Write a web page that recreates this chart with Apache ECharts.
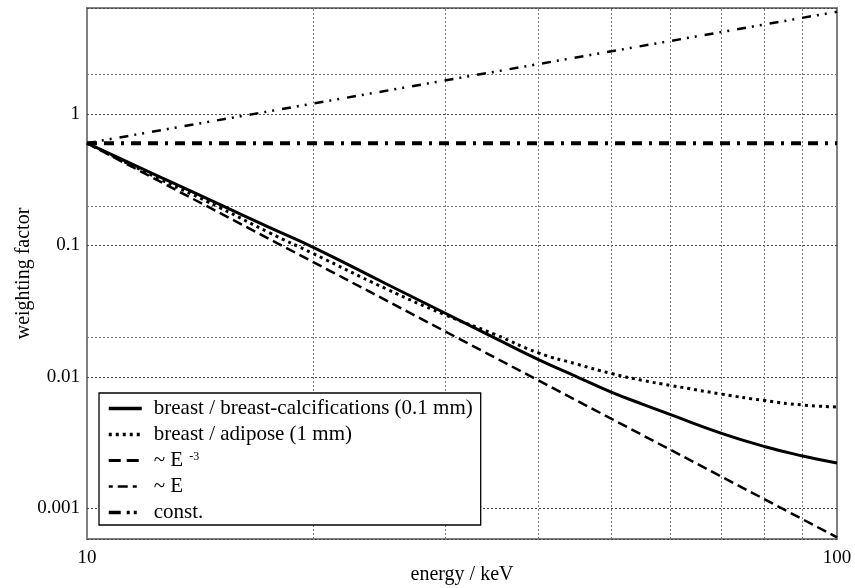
<!DOCTYPE html>
<html>
<head>
<meta charset="UTF-8">
<title>weighting factor</title>
<script src="https://cdn.jsdelivr.net/npm/echarts@6/dist/echarts.min.js"></script>
<style>
html, body { margin: 0; padding: 0; background: #fff; }
#chart { width: 855px; height: 588px; }
</style>
</head>
<body>
<div id="chart"></div>
<script>
// energies (keV) where the two curves were read
var energy = [10, 12.5, 15, 17.5, 20, 25, 30, 35, 40, 45, 50, 55, 60, 70, 80, 90, 100];
// breast / breast-calcifications (0.1 mm)
var calcValues = [0.6, 0.333, 0.206, 0.137, 0.097, 0.0513, 0.0306, 0.0197, 0.0135, 0.0100, 0.00765, 0.0062, 0.00515, 0.00373, 0.00295, 0.0025, 0.00221];
// breast / adipose (1 mm)
var adiposeValues = [0.6, 0.32, 0.195, 0.125, 0.087, 0.047, 0.0297, 0.021, 0.0152, 0.0125, 0.0106, 0.0094, 0.0086, 0.0074, 0.0066, 0.0061, 0.0059];
// straight reference lines (end points)
var refEnergy = [10, 100];
var invCubeValues = [0.6, 0.0006];
var linearValues = [0.6, 6.0];
var constValues = [0.6, 0.6];
// extra grid lines
var xGridLines = [20, 30, 40, 50, 60, 70, 80, 90];
var yGridLines = [2, 0.2, 0.02, 0.002];

var seriesNames = ['breast / breast-calcifications (0.1 mm)', 'breast / adipose (1 mm)', '~ E-3', '~ E', 'const.'];

// line styles shared by the series and their legend samples
var styles = [
  { color: '#000', width: 3, type: 'solid' },
  { color: '#000', width: 3, type: [3, 4] },
  { color: '#000', width: 2.5, type: [10, 5] },
  { color: '#000', width: 2.5, type: [9, 6, 2, 6, 2, 8] },
  { color: '#000', width: 4, type: [10, 7, 10, 7, 3, 7] }
];
var legendStyles = [
  { color: '#000', width: 3.5, type: 'solid' },
  { color: '#000', width: 3.5, type: [3, 4] },
  { color: '#000', width: 3, type: [12, 6] },
  { color: '#000', width: 2.5, type: [4, 5, 10, 5, 4, 5] },
  { color: '#000', width: 3.5, type: [12, 6, 3, 4, 3, 6] }
];

function pairs(xs, ys) {
  return xs.map(function (x, i) { return [x, ys[i]]; });
}

var font = 'Liberation Serif';
var myChart = echarts.init(document.getElementById('chart'), null, { renderer: 'canvas' });

var gridMarks = xGridLines.map(function (v) { return { xAxis: v }; })
  .concat(yGridLines.map(function (v) { return { yAxis: v }; }));

var option = {
  animation: false,
  backgroundColor: '#fff',
  color: ['#000', '#000', '#000', '#000', '#000'],
  grid: {
    left: 87, right: 18, top: 8, bottom: 49,
    outerBoundsMode: 'none',
    show: true, borderColor: '#808080', borderWidth: 2, backgroundColor: 'transparent'
  },
  xAxis: {
    type: 'log', logBase: 10, min: 10, max: 100,
    name: 'energy / keV', nameLocation: 'middle', nameGap: 26, nameMoveOverlap: false,
    nameTextStyle: { fontFamily: font, fontSize: 20, color: '#000' },
    axisLine: { show: false },
    axisTick: { show: false },
    axisLabel: { fontFamily: font, fontSize: 19, color: '#000', margin: 10 },
    splitLine: { show: false }
  },
  yAxis: {
    type: 'log', logBase: 10, min: 0.000583, max: 6.41,
    name: 'weighting factor', nameLocation: 'middle', nameGap: 53, nameMoveOverlap: false,
    nameTextStyle: { fontFamily: font, fontSize: 20, color: '#000' },
    axisLine: { show: false },
    axisTick: { show: false },
    axisLabel: { fontFamily: font, fontSize: 19, color: '#000', margin: 7, showMinLabel: false, showMaxLabel: false },
    splitLine: { show: true, lineStyle: { color: '#444', type: [2, 2], width: 1 } }
  },
  legend: {
    orient: 'vertical', left: 99, top: 393,
    data: seriesNames.map(function (n, i) { return { name: n, lineStyle: legendStyles[i] }; }),
    backgroundColor: '#fff', borderColor: '#000', borderWidth: 1.3, borderRadius: 0,
    padding: [5, 8, 2, 8],
    itemWidth: 33, itemHeight: 14, itemGap: 5,
    itemStyle: { opacity: 0 },
    textStyle: {
      fontFamily: font, fontSize: 21, color: '#000', lineHeight: 20, padding: [0, 0, 0, 7],
      rich: { sup: { fontFamily: font, fontSize: 12, color: '#000', verticalAlign: 'top', lineHeight: 20, padding: [0, 0, 0, 6] } }
    },
    formatter: function (name) {
      if (name === '~ E-3') return '~ E{sup|-3}';
      return name;
    }
  },
  series: [
    {
      name: seriesNames[0], type: 'line', symbol: 'none', smooth: 0.5,
      data: pairs(energy, calcValues),
      lineStyle: styles[0]
    },
    {
      name: seriesNames[1], type: 'line', symbol: 'none', smooth: 0.5,
      data: pairs(energy, adiposeValues),
      lineStyle: styles[1]
    },
    {
      name: seriesNames[2], type: 'line', symbol: 'none',
      data: pairs(refEnergy, invCubeValues),
      lineStyle: styles[2]
    },
    {
      name: seriesNames[3], type: 'line', symbol: 'none',
      data: pairs(refEnergy, linearValues),
      lineStyle: styles[3]
    },
    {
      name: seriesNames[4], type: 'line', symbol: 'none', z: 3,
      data: pairs(refEnergy, constValues),
      lineStyle: styles[4],
      markLine: {
        silent: true, symbol: 'none', z: 1,
        label: { show: false },
        lineStyle: { color: '#777', type: [2, 2], width: 1 },
        data: gridMarks
      }
    }
  ]
};

myChart.setOption(option);
</script>
</body>
</html>
